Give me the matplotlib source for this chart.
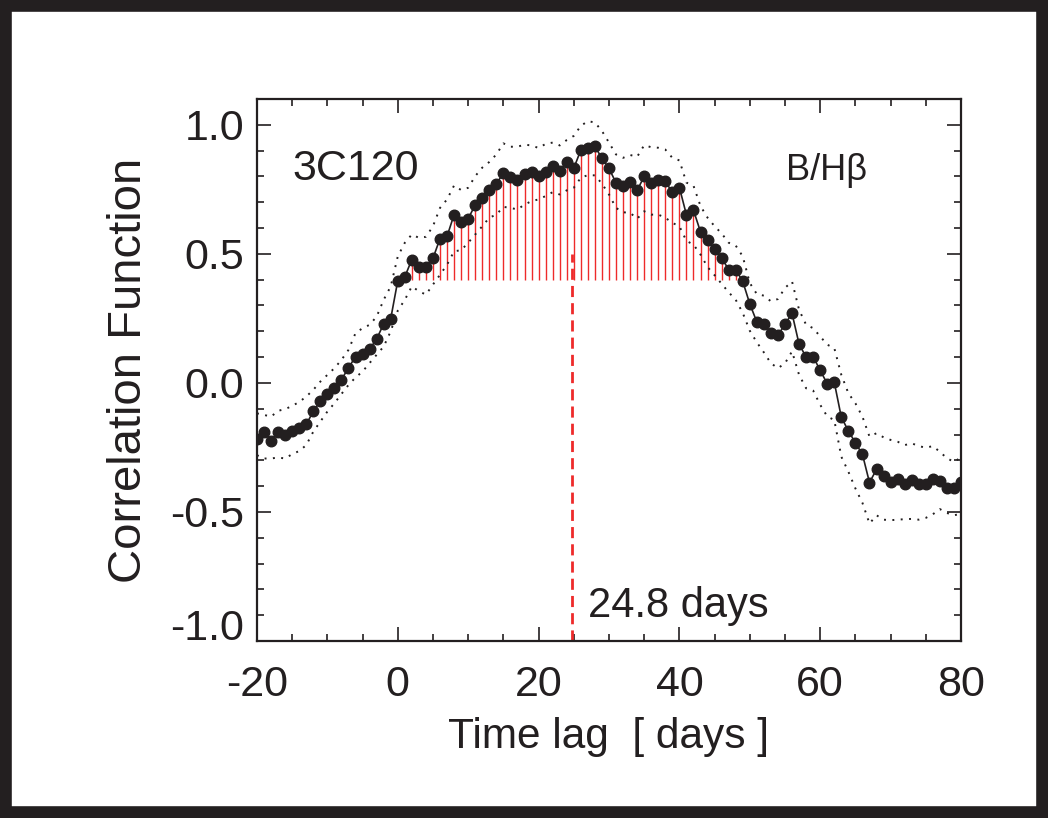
import matplotlib
matplotlib.use('Agg')
import matplotlib.pyplot as plt
import numpy as np
from matplotlib.patches import Rectangle
from matplotlib.ticker import MultipleLocator
import matplotlib.transforms as mtransforms

plt.rcParams['font.family'] = ['Liberation Sans', 'DejaVu Sans']
plt.rcParams['axes.unicode_minus'] = False

# ---------------- data ----------------
lags = list(range(-20, 81))

ccf = [-0.219, -0.189, -0.224, -0.192, -0.200, -0.186, -0.173, -0.161, -0.110, -0.070,
       -0.044, -0.018, 0.013, 0.058, 0.102, 0.113, 0.131, 0.170, 0.229, 0.249,
       0.396, 0.411, 0.478, 0.449, 0.449, 0.483, 0.559, 0.568, 0.652, 0.624,
       0.636, 0.690, 0.717, 0.748, 0.772, 0.812, 0.799, 0.788, 0.810, 0.817,
       0.801, 0.818, 0.840, 0.821, 0.857, 0.832, 0.902, 0.909, 0.916, 0.870,
       0.831, 0.775, 0.761, 0.778, 0.746, 0.800, 0.774, 0.787, 0.781, 0.738,
       0.757, 0.651, 0.669, 0.585, 0.553, 0.519, 0.484, 0.439, 0.439, 0.393,
       0.306, 0.236, 0.228, 0.195, 0.184, 0.228, 0.269, 0.150, 0.100, 0.102,
       0.048, -0.003, 0.002, -0.133, -0.186, -0.232, -0.277, -0.386, -0.335, -0.359,
       -0.384, -0.373, -0.390, -0.375, -0.390, -0.392, -0.374, -0.382, -0.409, -0.409,
       -0.383]

upper = [-0.118, -0.124, -0.131, -0.108, -0.102, -0.089, -0.074, -0.053, -0.027, 0.005,
         0.031, 0.057, 0.089, 0.128, 0.193, 0.212, 0.225, 0.257, 0.322, 0.374,
         0.490, 0.543, 0.575, 0.562, 0.566, 0.607, 0.678, 0.711, 0.765, 0.747,
         0.756, 0.801, 0.834, 0.856, 0.885, 0.928, 0.915, 0.915, 0.923, 0.920,
         0.910, 0.926, 0.931, 0.920, 0.941, 0.957, 0.996, 1.014, 1.009, 0.976,
         0.931, 0.885, 0.872, 0.883, 0.876, 0.921, 0.913, 0.911, 0.904, 0.872,
         0.862, 0.776, 0.764, 0.685, 0.640, 0.607, 0.579, 0.543, 0.532, 0.490,
         0.387, 0.344, 0.338, 0.316, 0.325, 0.368, 0.393, 0.283, 0.225, 0.212,
         0.180, 0.148, 0.135, 0.031, -0.040, -0.079, -0.131, -0.208, -0.195, -0.211,
         -0.221, -0.228, -0.241, -0.234, -0.245, -0.251, -0.245, -0.267, -0.292, -0.306,
         -0.289]

lower = [-0.280, -0.293, -0.293, -0.289, -0.293, -0.276, -0.264, -0.241, -0.189, -0.150,
         -0.111, -0.079, -0.043, -0.008, 0.021, 0.044, 0.077, 0.109, 0.141, 0.200,
         0.280, 0.322, 0.374, 0.355, 0.342, 0.381, 0.419, 0.458, 0.510, 0.514,
         0.543, 0.575, 0.607, 0.640, 0.652, 0.682, 0.678, 0.672, 0.691, 0.704,
         0.711, 0.724, 0.739, 0.730, 0.746, 0.756, 0.795, 0.805, 0.804, 0.772,
         0.730, 0.678, 0.661, 0.659, 0.636, 0.665, 0.652, 0.652, 0.640, 0.620,
         0.607, 0.550, 0.536, 0.497, 0.449, 0.417, 0.384, 0.351, 0.322, 0.271,
         0.202, 0.157, 0.118, 0.076, 0.057, 0.076, 0.122, 0.031, -0.021, -0.030,
         -0.085, -0.130, -0.144, -0.286, -0.344, -0.409, -0.465, -0.545, -0.513, -0.530,
         -0.532, -0.530, -0.528, -0.527, -0.530, -0.523, -0.509, -0.489, -0.504, -0.513,
         -0.507]

centroid_base = 0.4
centroid_range = (2, 48)
centroid_lag = 24.8

xticks = [-20, 0, 20, 40, 60, 80]
yticks = [-1.0, -0.5, 0.0, 0.5, 1.0]
ytick_labels = ['', '-0.5', '0.0', '0.5', '1.0']

ink = '#231f20'
red = '#ee2a2a'

# ---------------- figure ----------------
fig = plt.figure(figsize=(10.48, 8.18), dpi=100)
ax = fig.add_axes([0.2452, 0.2164, 0.6718, 0.6626])

lags_a = np.array(lags)
ccf_a = np.array(ccf)
sel = (lags_a >= centroid_range[0]) & (lags_a <= centroid_range[1])
ax.vlines(lags_a[sel], centroid_base, ccf_a[sel], colors=red, lw=1.0, zorder=1)

ax.vlines(centroid_lag, -1.0, 0.5, colors=red, linestyles=(0, (4, 2.2)), lw=2.0, zorder=2)

ax.plot(lags, upper, color=ink, lw=1.4, linestyle=(0, (1, 3.3)), zorder=3)
ax.plot(lags, lower, color=ink, lw=1.4, linestyle=(0, (1, 3.3)), zorder=3)
ax.plot(lags, ccf, color=ink, lw=1.2, marker='o', markersize=7.6, zorder=4)

ax.set_xlim(-20, 80)
ax.set_ylim(-1.0, 1.1)
ax.set_xticks(xticks)
ax.set_xticklabels([str(v) for v in xticks])
ax.set_yticks(yticks)
ax.set_yticklabels(ytick_labels)
ax.xaxis.set_minor_locator(MultipleLocator(5))
ax.yaxis.set_minor_locator(MultipleLocator(0.1))

ax.tick_params(which='both', direction='in', top=True, right=True, colors=ink, width=1.2)
ax.tick_params(which='major', length=10, labelsize=31)
ax.tick_params(which='minor', length=5)
ax.tick_params(axis='x', which='major', pad=17)
ax.tick_params(axis='y', which='major', pad=9)
for s in ax.spines.values():
    s.set_linewidth(1.6)
    s.set_color(ink)

# bottom y label drawn slightly raised as in the reference
trans = mtransforms.blended_transform_factory(ax.transAxes, ax.transData)
ax.text(-0.0185, -0.955, '-1.0', transform=trans, ha='right', va='center',
        fontsize=31, color=ink)

ax.set_xlabel('Time lag  [ days ]', fontsize=30.5, color=ink, labelpad=9)
ax.set_ylabel('Correlation Function', fontsize=34, color=ink, labelpad=14)

ax.text(-14.9, 0.785, '3C120', fontsize=31, color=ink, ha='left', va='baseline')
ax.text(55.2, 0.786, 'B/H\u03b2', fontsize=26, color=ink, ha='left', va='baseline')
ax.text(27.0, -0.909, '24.8 days', fontsize=30, color=ink, ha='left', va='baseline')

fig.add_artist(Rectangle((0, 0), 1, 1, transform=fig.transFigure, fill=False,
                         lw=17, ec=ink))

fig.savefig('out.png', dpi=100)
